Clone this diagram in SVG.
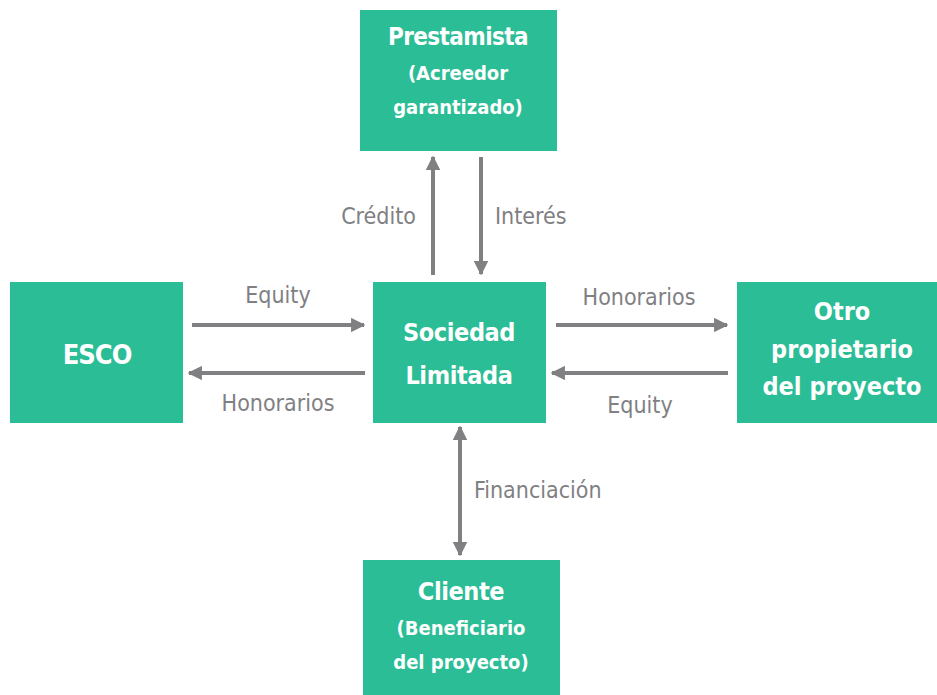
<svg xmlns="http://www.w3.org/2000/svg" width="937" height="695" viewBox="0 0 937 695">
  <style>
    .box { fill: #2bbd96; }
    .title { font-family: "DejaVu Sans Condensed", "DejaVu Sans", sans-serif; font-weight: bold; fill: #ffffff; text-anchor: middle; }
    .lbl { font-family: "DejaVu Sans Condensed", "DejaVu Sans", sans-serif; font-size: 23px; fill: #808083; }
    .conn { stroke: #808083; stroke-width: 4; fill: none; }
  </style>
  <defs>
    <marker id="head" viewBox="0 0 10 10" refX="9" refY="5" markerWidth="3.6" markerHeight="3.6" orient="auto-start-reverse" markerUnits="strokeWidth">
      <path d="M0,0 L10,5 L0,10 Z" fill="#808083"/>
    </marker>
  </defs>
  <rect width="937" height="695" fill="#ffffff"/>

  <g id="prestamista">
    <rect class="box" x="360" y="10" width="197" height="141"/>
    <text class="title" x="458" y="45" font-size="24" letter-spacing="-0.6">Prestamista</text>
    <text class="title" x="458" y="80" font-size="20">(Acreedor</text>
    <text class="title" x="458" y="114" font-size="20">garantizado)</text>
  </g>

  <g id="esco">
    <rect class="box" x="10" y="282" width="173" height="141"/>
    <text class="title" x="97" y="364" font-size="27" letter-spacing="-1">ESCO</text>
  </g>

  <g id="sociedad">
    <rect class="box" x="373" y="282" width="173" height="141"/>
    <text class="title" x="459" y="341" font-size="25" letter-spacing="-0.4">Sociedad</text>
    <text class="title" x="459" y="384" font-size="25" letter-spacing="-0.4">Limitada</text>
  </g>

  <g id="otro">
    <rect class="box" x="737" y="282" width="200" height="141"/>
    <text class="title" x="842" y="320" font-size="25">Otro</text>
    <text class="title" x="842" y="358" font-size="25">propietario</text>
    <text class="title" x="842" y="395" font-size="25">del proyecto</text>
  </g>

  <g id="cliente">
    <rect class="box" x="363" y="560" width="197" height="135"/>
    <text class="title" x="461" y="600" font-size="25" letter-spacing="-0.4">Cliente</text>
    <text class="title" x="461" y="635" font-size="20">(Beneficiario</text>
    <text class="title" x="461" y="669" font-size="20">del proyecto)</text>
  </g>

  <g id="connectors">
    <line class="conn" x1="192" y1="325" x2="364" y2="325" marker-end="url(#head)"/>
    <line class="conn" x1="365" y1="373" x2="189" y2="373" marker-end="url(#head)"/>
    <line class="conn" x1="556" y1="325" x2="727" y2="325" marker-end="url(#head)"/>
    <line class="conn" x1="728" y1="373" x2="552" y2="373" marker-end="url(#head)"/>
    <line class="conn" x1="433" y1="275" x2="433" y2="157" marker-end="url(#head)"/>
    <line class="conn" x1="481" y1="157" x2="481" y2="274" marker-end="url(#head)"/>
    <line class="conn" x1="460" y1="427" x2="460" y2="555" marker-start="url(#head)" marker-end="url(#head)"/>

    <text class="lbl" x="278" y="303" text-anchor="middle">Equity</text>
    <text class="lbl" x="278" y="411" text-anchor="middle">Honorarios</text>
    <text class="lbl" x="639" y="305" text-anchor="middle">Honorarios</text>
    <text class="lbl" x="640" y="413" text-anchor="middle">Equity</text>
    <text class="lbl" x="416" y="224" text-anchor="end">Crédito</text>
    <text class="lbl" x="495" y="224">Interés</text>
    <text class="lbl" x="474" y="498">Financiación</text>
  </g>
</svg>
